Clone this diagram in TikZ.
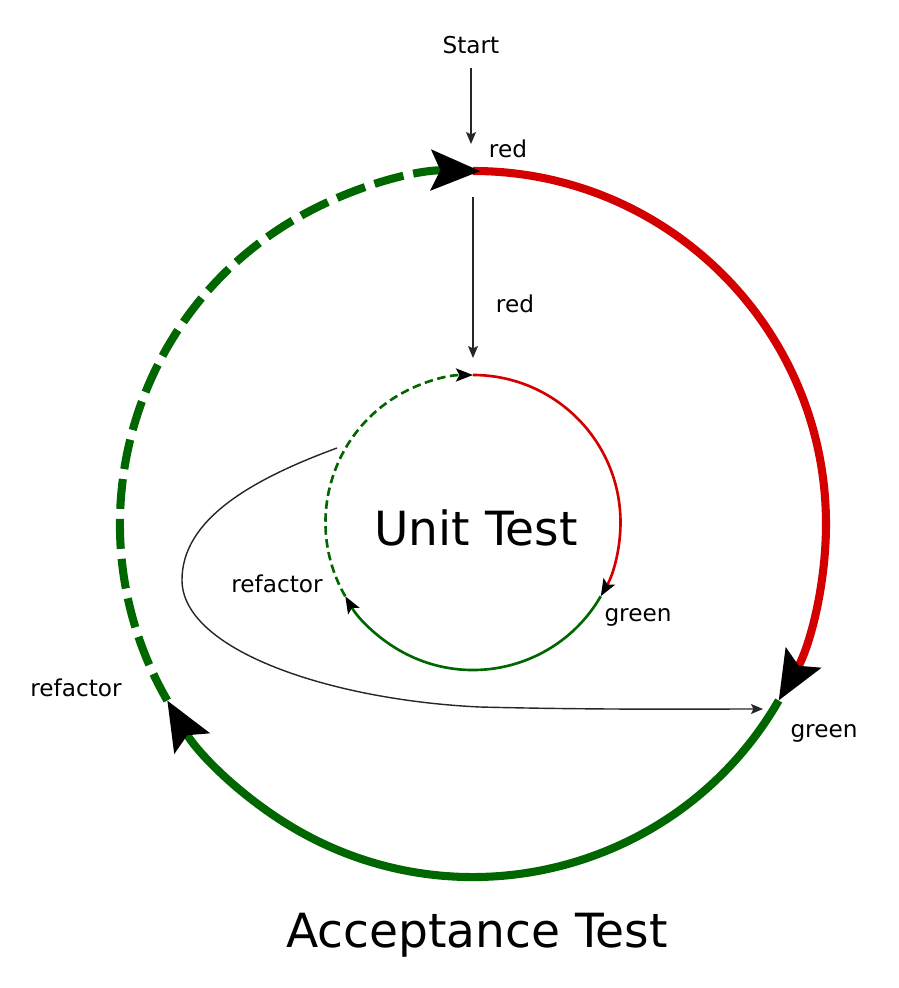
\documentclass[tikz,border=0pt]{standalone}
\usepackage{fontspec}
\setmainfont{DejaVu Sans}
\usetikzlibrary{arrows.meta}
\definecolor{tddred}{RGB}{212,0,0}
\definecolor{tddgreen}{RGB}{0,102,0}
\tikzset{
  bigtip/.style={-{Stealth[length=0.98cm,width=0.8cm,inset=0.18cm,black]}},
  smalltip/.style={-{Stealth[length=0.34cm,width=0.26cm,inset=0.07cm,black]}},
  thintip/.style={-{Stealth[length=0.24cm,width=0.2cm,inset=0.05cm]}},
  outerline/.style={line width=4.6pt},
  innerline/.style={line width=1.5pt},
  thinline/.style={line width=0.8pt,black!85},
  lbl/.style={font=\fontsize{13.2}{15}\selectfont,anchor=base},
  title/.style={font=\fontsize{26.8}{31}\selectfont,anchor=base}
}
\begin{document}
\begin{tikzpicture}[scale=0.2]
    \tikzstyle{every node}+=[inner sep=0pt]
    \useasboundingbox (0,0) rectangle (89.9,-98.8);
    \coordinate (acc) at (47.3,-52.4);
    \coordinate (unit) at (47.3,-52.25);
    \coordinate (atop) at (47.3,-17.1);
    \coordinate (utop) at (47.3,-37.5);
    \coordinate (loopfrom) at (33.7,-44.8);
    \coordinate (loopto) at (76.3,-70.9);
    \draw [tddred, outerline, bigtip] (acc) ++(90:35.3) arc (90:-30:35.3);
    \draw [tddgreen, outerline, bigtip] (acc) ++(-30:35.3) arc (-30:-150:35.3);
    \draw [tddgreen, outerline, dash pattern=on 0.6cm off 0.2cm, bigtip] (acc) ++(210:35.3) arc (210:88.8:35.3);
    \draw [tddred, innerline, smalltip] (unit) ++(90:14.75) arc (90:-30:14.75);
    \draw [tddgreen, innerline, smalltip] (unit) ++(-30:14.75) arc (-30:-150:14.75);
    \draw [tddgreen, innerline, dash pattern=on 0.17cm off 0.09cm, smalltip] (unit) ++(210:14.75) arc (210:90:14.75);
    \node [lbl] (start) at (47.1,-5.3) {Start};
    \node [lbl] (redtop) at (50.8,-15.7) {red};
    \node [lbl] (redmid) at (51.5,-31.2) {red};
    \node [title] (unitname) at (47.6,-54.5) {Unit Test};
    \node [lbl] (ugreen) at (63.8,-62.1) {green};
    \node [lbl] (urefactor) at (27.7,-59.2) {refactor};
    \node [lbl] (agreen) at (82.4,-73.7) {green};
    \node [lbl] (arefactor) at (7.6,-69.6) {refactor};
    \node [title] (accname) at (47.7,-94.7) {Acceptance Test};
    \draw [thinline, thintip, shorten <=0.28cm, shorten >=0.54cm] (start.south) -- (start.south |- atop);
    \draw [thinline, thintip, shorten <=0.52cm, shorten >=0.34cm] (atop) -- (utop);
    \draw [thinline, thintip] (loopfrom) .. controls (25,-48) and (18.2,-52) .. (18.2,-58) .. controls (18.2,-65) and (33,-70) .. (48,-70.7) .. controls (60,-71) and (70,-70.9) .. (loopto);
\end{tikzpicture}
\end{document}
